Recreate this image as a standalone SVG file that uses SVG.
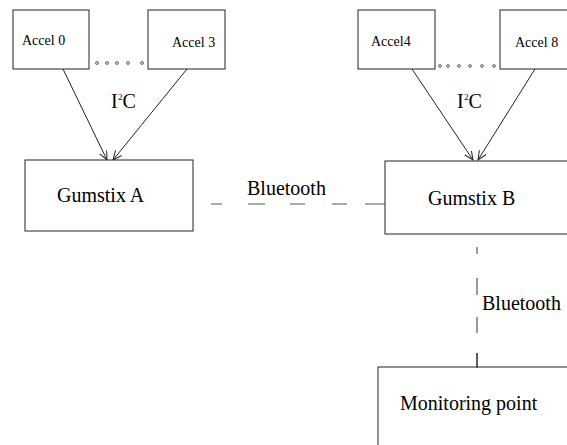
<svg xmlns="http://www.w3.org/2000/svg" width="567" height="445" viewBox="0 0 567 445">
<defs>
<style>
text{font-family:"Liberation Serif","Times New Roman","DejaVu Serif",serif;fill:#000}
.box{fill:#fff;stroke:#222;stroke-width:1}
.s{font-size:14px}
.m{font-size:20px}
.sup{font-size:9px}
.ln{stroke:#222;stroke-width:1;fill:none}
.dash{stroke:#555;stroke-width:1.2;fill:none}
.dot{fill:#fff;stroke:#333;stroke-width:0.8}
</style>
<marker id="arr" markerWidth="10" markerHeight="10" refX="9" refY="4" orient="auto" markerUnits="userSpaceOnUse">
<path d="M0,0 L9,4 L0,8" fill="none" stroke="#222" stroke-width="1"/>
</marker>
</defs>
<rect width="567" height="445" fill="#fff"/>
<g id="connectors">
<line class="ln" x1="63" y1="69" x2="107" y2="160" marker-end="url(#arr)"/>
<line class="ln" x1="187" y1="69" x2="113" y2="160" marker-end="url(#arr)"/>
<line class="ln" x1="412" y1="69" x2="473" y2="160" marker-end="url(#arr)"/>
<line class="ln" x1="535" y1="69" x2="478" y2="160" marker-end="url(#arr)"/>
<path class="dash" d="M211,204H222M248,204H265M290,204H305M332,204H347M365,204H385"/>
<path class="dash" d="M477,247V254M477,278V295M477,317V333M477,353V368"/>
<g>
<circle class="dot" cx="97" cy="63" r="1.4"/>
<circle class="dot" cx="107" cy="63" r="1.4"/>
<circle class="dot" cx="117" cy="63" r="1.4"/>
<circle class="dot" cx="128" cy="63" r="1.4"/>
<circle class="dot" cx="142" cy="63" r="1.4"/>
<circle class="dot" cx="440" cy="66" r="1.4"/>
<circle class="dot" cx="448" cy="66" r="1.4"/>
<circle class="dot" cx="459" cy="66" r="1.4"/>
<circle class="dot" cx="470" cy="66" r="1.4"/>
<circle class="dot" cx="482" cy="66" r="1.4"/>
<circle class="dot" cx="494" cy="66" r="1.4"/>
</g>
<text class="m" x="111" y="108">I</text><text class="sup" x="118" y="100">2</text><text class="m" x="122.5" y="108">C</text>
<text class="m" x="457" y="108">I</text><text class="sup" x="464" y="100">2</text><text class="m" x="468.5" y="108">C</text>
<text class="m" x="247" y="195">Bluetooth</text>
<text class="m" x="482" y="310">Bluetooth</text>
</g>
<g id="accel0"><rect class="box" x="13" y="10" width="76" height="59"/><text class="s" x="22" y="45">Accel 0</text></g>
<g id="accel3"><rect class="box" x="148" y="10" width="77" height="59"/><text class="s" x="172" y="47">Accel 3</text></g>
<g id="accel4"><rect class="box" x="358" y="10" width="77" height="59"/><text class="s" x="371" y="46">Accel4</text></g>
<g id="accel8"><rect class="box" x="500" y="10" width="80" height="59"/><text class="s" x="515" y="47">Accel 8</text></g>
<g id="gumstixA"><rect class="box" x="25" y="160" width="168" height="71"/><text class="m" x="57" y="202">Gumstix A</text></g>
<g id="gumstixB"><rect class="box" x="385" y="161" width="200" height="73"/><text class="m" x="428" y="205">Gumstix B</text></g>
<g id="monitoring"><rect class="box" x="378" y="367" width="210" height="100"/><text class="m" x="400" y="410">Monitoring point</text></g>
<line class="ln" x1="477" y1="353" x2="477" y2="368"/>
</svg>
